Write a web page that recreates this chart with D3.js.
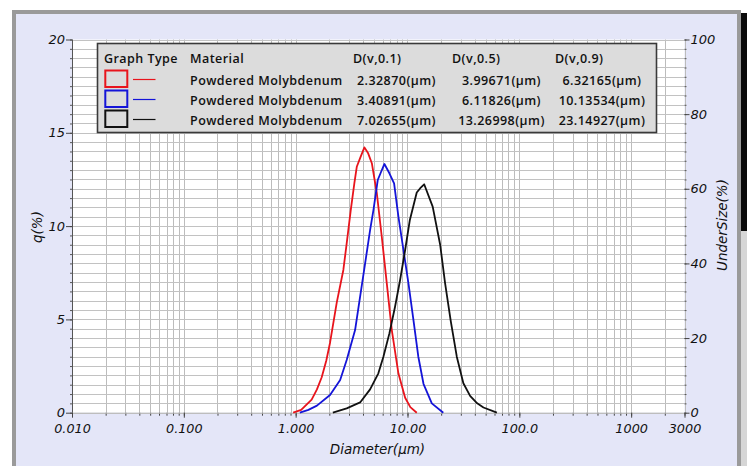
<!DOCTYPE html>
<html><head><meta charset="utf-8">
<script src="https://cdn.jsdelivr.net/npm/d3@7"></script>
<style>
html,body{margin:0;padding:0;background:#fff;}
svg{display:block;}
.tick text{font-family:"DejaVu Sans",sans-serif;font-style:italic;}
</style></head>
<body><svg id="c" width="747" height="466"></svg>
<script>
// ---- data ----
const xTickValues = [0.01, 0.1, 1, 10, 100, 1000, 3000];
const xTickLabels = ["0.010", "0.100", "1.000", "10.00", "100.0", "1000", "3000"];
const yLeftTicks = [0, 5, 10, 15, 20];
const yRightTicks = [0, 20, 40, 60, 80, 100];

const seriesNames = ["Powdered Molybdenum", "Powdered Molybdenum", "Powdered Molybdenum"];
const seriesColors = ["#e8141c", "#1414d8", "#111111"];
const dv01 = ["2.32870(µm)", "3.40891(µm)", "7.02655(µm)"];
const dv05 = ["3.99671(µm)", "6.11826(µm)", "13.26998(µm)"];
const dv09 = ["6.32165(µm)", "10.13534(µm)", "23.14927(µm)"];

const redD = [0.95, 1.12, 1.39, 1.55, 1.71, 1.88, 2.03, 2.33, 2.67, 2.86, 3.11, 3.35, 3.52, 3.80, 4.12, 4.45, 4.80, 5.32, 5.89, 6.53, 7.24, 8.30, 9.53, 10.6, 12.1];
const redQ = [0, 0.15, 0.7, 1.25, 1.9, 2.8, 3.75, 5.9, 7.65, 9.08, 10.86, 12.3, 13.18, 13.7, 14.22, 13.9, 13.37, 11.76, 9.43, 6.93, 4.43, 2.1, 0.8, 0.3, 0];

const blueD = [1.09, 1.3, 1.55, 2.03, 2.50, 2.86, 3.40, 3.77, 4.18, 4.63, 4.96, 5.42, 5.8, 6.22, 6.89, 7.59, 8.30, 9.20, 10.2, 11.3, 12.5, 13.9, 16.5, 20.9];
const blueQ = [0, 0.15, 0.38, 0.95, 1.75, 2.82, 4.43, 6.22, 8.0, 9.79, 10.86, 12.47, 12.9, 13.33, 12.83, 12.29, 10.5, 8.72, 6.93, 4.97, 3.0, 1.55, 0.5, 0];

const blackD = [2.15, 2.86, 3.77, 4.63, 5.49, 6.09, 6.89, 7.74, 8.59, 9.53, 10.5, 12.1, 13.0, 14.1, 16.8, 19.6, 21.7, 24.4, 27.6, 31.6, 36.3, 42, 47.8, 63];
const blackQ = [0, 0.23, 0.55, 1.25, 2.11, 3.0, 4.25, 5.68, 7.11, 8.72, 10.33, 11.8, 12.03, 12.24, 11.04, 9.0, 6.93, 4.9, 3.0, 1.58, 0.9, 0.5, 0.28, 0];

// ---- layout ----
const svg = d3.select("#c");
const L = 72, R = 684.5, T = 39.5, B = 412.7;
const x = d3.scaleLog().domain([0.01, 3000]).range([L, R]);
const y = d3.scaleLinear().domain([0, 20]).range([B, T]);
const y2 = d3.scaleLinear().domain([0, 100]).range([B, T]);

// frame
svg.append("rect").attr("x", 12).attr("y", 10).attr("width", 729).attr("height", 470).attr("fill", "#9a9a9a");
svg.append("rect").attr("x", 741).attr("y", 13).attr("width", 6).attr("height", 218).attr("fill", "#0a0a0a");
svg.append("rect").attr("x", 741).attr("y", 231).attr("width", 6).attr("height", 240).attr("fill", "#d6d6d6");
svg.append("rect").attr("x", 16).attr("y", 14).attr("width", 721).attr("height", 460).attr("fill", "#e4e6f8");
// plot area
svg.append("rect").attr("x", L).attr("y", T).attr("width", R - L).attr("height", B - T).attr("fill", "#ffffff");

// grid
const minorX = [];
for (let e = -2; e <= 3; e++) for (let m = 1; m <= 9; m++) {
  const v = m * Math.pow(10, e);
  if (v >= 0.01 && v <= 3000) minorX.push(v);
}
const gridY = d3.range(0, 20.01, 0.5);
const grid = svg.append("g");
grid.selectAll("line.gx").data(minorX).join("line")
  .attr("x1", d => Math.round(x(d)) + 0.5).attr("x2", d => Math.round(x(d)) + 0.5)
  .attr("y1", T).attr("y2", B).attr("stroke", "#bcbcbc").attr("stroke-width", 1);
grid.selectAll("line.gy").data(gridY).join("line")
  .attr("x1", L).attr("x2", R)
  .attr("y1", d => Math.round(y(d)) + 0.5).attr("y2", d => Math.round(y(d)) + 0.5)
  .attr("stroke", "#c2c2c2").attr("stroke-width", 1);

// x axis ticks
const xMinorAxis = d3.axisBottom(x).tickValues(minorX).tickSize(3).tickFormat("");
const gxm = svg.append("g").attr("transform", `translate(0,${B})`).call(xMinorAxis);
gxm.select(".domain").remove();
gxm.selectAll("line").attr("stroke", "#444");
const xAxis = d3.axisBottom(x).tickValues(xTickValues).tickSize(5)
  .tickFormat((d, i) => xTickLabels[i]).tickPadding(6);
const gx = svg.append("g").attr("transform", `translate(0,${B})`).call(xAxis);
gx.select(".domain").attr("stroke", "#bbbbbb").attr("d", `M${L},0.5H${R}`);
gx.selectAll("line").attr("stroke", "#444");
gx.selectAll("text").attr("font-size", 12.8).attr("fill", "#111").attr("dy", "0.71em");

// left axis
const yMinor = d3.axisLeft(y).tickValues(gridY).tickSize(2).tickFormat("");
const gym = svg.append("g").attr("transform", `translate(${L},0)`).call(yMinor);
gym.select(".domain").remove();
gym.selectAll("line").attr("stroke", "#555");
const yAxis = d3.axisLeft(y).tickValues(yLeftTicks).tickSize(6).tickPadding(1);
const gy = svg.append("g").attr("transform", `translate(${L},0)`).call(yAxis);
gy.select(".domain").attr("stroke", "#555").attr("d", `M0.5,${T}V${B}`);
gy.selectAll("line").attr("stroke", "#444");
gy.selectAll("text").attr("font-size", 13).attr("fill", "#111");

// right axis
const y2Minor = d3.axisRight(y2).tickValues(d3.range(0, 100.01, 2.5)).tickSize(2).tickFormat("");
const gy2m = svg.append("g").attr("transform", `translate(${R},0)`).call(y2Minor);
gy2m.select(".domain").remove();
gy2m.selectAll("line").attr("stroke", "#555");
const y2Axis = d3.axisRight(y2).tickValues(yRightTicks).tickSize(5).tickPadding(1);
const gy2 = svg.append("g").attr("transform", `translate(${R},0)`).call(y2Axis);
gy2.select(".domain").remove();
gy2.selectAll("line").attr("stroke", "#444");
gy2.selectAll("text").attr("font-size", 13).attr("fill", "#111");

// axis titles
const titleFont = "DejaVu Sans, sans-serif";
svg.append("text").attr("x", 377.5).attr("y", 454).attr("text-anchor", "middle")
  .attr("font-family", titleFont).attr("font-style", "italic").attr("font-size", 13.5).attr("fill", "#111")
  .text("Diameter(µm)");
svg.append("text").attr("transform", "translate(42,227) rotate(-90)").attr("text-anchor", "middle")
  .attr("font-family", titleFont).attr("font-style", "italic").attr("font-size", 13.5).attr("fill", "#111")
  .text("q(%)");
svg.append("text").attr("transform", "translate(727,225) rotate(-90)").attr("text-anchor", "middle")
  .attr("font-family", titleFont).attr("font-style", "italic").attr("font-size", 13.5).attr("fill", "#111")
  .text("UnderSize(%)");

// curves
const series = [
  {d: redD, q: redQ, c: seriesColors[0]},
  {d: blueD, q: blueQ, c: seriesColors[1]},
  {d: blackD, q: blackQ, c: seriesColors[2]}
];
const line = d3.line().x(p => x(p[0])).y(p => y(p[1]));
series.forEach(s => {
  svg.append("path").attr("d", line(d3.zip(s.d, s.q)))
    .attr("fill", "none").attr("stroke", s.c).attr("stroke-width", 1.8).attr("stroke-linejoin", "round");
});

// legend
const lg = svg.append("g");
lg.append("rect").attr("x", 97.5).attr("y", 43.5).attr("width", 559).attr("height", 89)
  .attr("fill", "#dcdcdc").attr("stroke", "#3a3a3a").attr("stroke-width", 1.6);
const lf = {"font-family": "Open Sans, sans-serif", "font-weight": 600, "font-size": 12.5, "fill": "#111", "letter-spacing": 0.45};
function t(xp, yp, s, anchor) {
  const e = lg.append("text").attr("x", xp).attr("y", yp).attr("text-anchor", anchor || "start").text(s);
  Object.entries(lf).forEach(([k, v]) => e.attr(k, v));
  return e;
}
t(104, 63, "Graph Type");
t(190, 63, "Material");
t(353, 63, "D(v,0.1)");
t(452, 63, "D(v,0.5)");
t(555, 63, "D(v,0.9)");
const rowY = [85, 105, 125];
seriesColors.forEach((c, i) => {
  const cy = rowY[i] - 6;
  lg.append("rect").attr("x", 105.3).attr("y", cy - 8.5).attr("width", 22).attr("height", 16.5)
    .attr("fill", "none").attr("stroke", c).attr("stroke-width", 2);
  lg.append("line").attr("x1", 133).attr("x2", 155.5).attr("y1", cy + 0.5).attr("y2", cy + 0.5)
    .attr("stroke", c).attr("stroke-width", 1.2);
  t(190, rowY[i], seriesNames[i]);
  t(396.5, rowY[i], dv01[i], "middle");
  t(501.5, rowY[i], dv05[i], "middle");
  t(602, rowY[i], dv09[i], "middle");
});
</script></body></html>
